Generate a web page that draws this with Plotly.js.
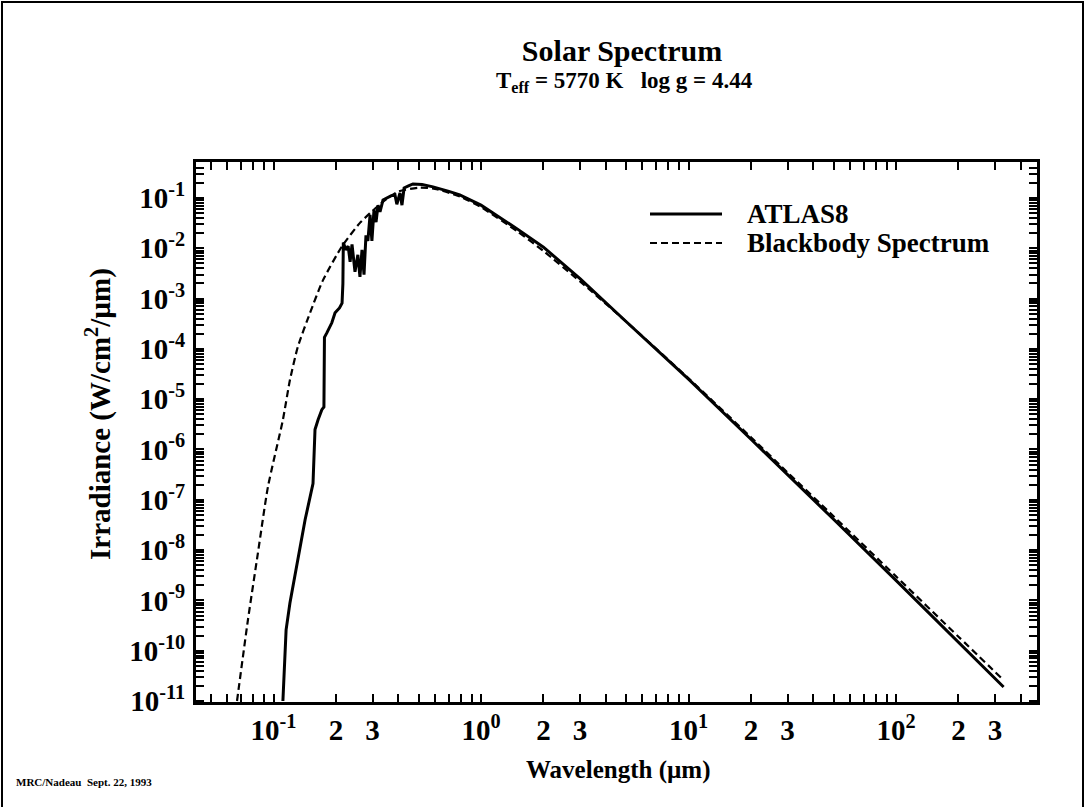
<!DOCTYPE html>
<html>
<head>
<meta charset="utf-8">
<script src="https://cdn.plot.ly/plotly-3.0.1.min.js"></script>
<style>
  html, body { margin: 0; padding: 0; background: #fff; }
  #wrap { position: relative; width: 1085px; height: 807px; overflow: hidden; }
  #chart { position: absolute; left: 0; top: 0; width: 1085px; height: 807px; }
  #frame { position: absolute; left: 1px; top: 1px; width: 1079px; height: 820px;
           border: 2px solid #000; pointer-events: none; }
</style>
</head>
<body>
<div id="wrap"><div id="chart"></div><div id="frame"></div></div>
<script>
// ---- data ----
const atlasWavelength = [0.111, 0.113, 0.115, 0.120, 0.128, 0.142, 0.155, 0.157, 0.1585, 0.164, 0.171, 0.175,
  0.176, 0.181, 0.191, 0.198, 0.208, 0.214, 0.216, 0.217, 0.223, 0.229, 0.234, 0.239, 0.247, 0.255, 0.261,
  0.267, 0.273, 0.279, 0.285, 0.292, 0.298, 0.305, 0.312, 0.319, 0.326, 0.337, 0.352, 0.368, 0.385, 0.393,
  0.398, 0.407, 0.416, 0.426, 0.45, 0.47, 0.52, 0.587, 0.70, 0.79, 1.0, 1.5, 2.0, 3.0, 5.0, 10, 20, 30, 50,
  100, 200, 330];
const atlasIrradiance = [1.0e-11, 6e-11, 2.6e-10, 8.9e-10, 4.0e-9, 4.0e-8, 2.1e-7, 1.0e-6, 2.5e-6, 3.9e-6, 6.2e-6, 7.0e-6,
  1.7e-4, 2.1e-4, 3.3e-4, 5.2e-4, 6.5e-4, 8.1e-4, 2.0e-3, 1.3e-2, 9.3e-3, 1.1e-2, 5.4e-3, 1.2e-2, 3.4e-3, 7.4e-3, 2.7e-3,
  9.3e-3, 3.0e-3, 1.8e-2, 1.4e-2, 4.6e-2, 1.4e-2, 5.8e-2, 3.3e-2, 7.2e-2, 5.3e-2, 9.1e-2, 0.100, 0.110, 0.115, 0.075,
  0.091, 0.126, 0.072, 0.158, 0.175, 0.19, 0.185, 0.166, 0.135, 0.115, 0.072, 0.024, 0.0105, 0.0025, 3.5e-4, 2.5e-5, 1.6e-6, 3.2e-7, 4.1e-8,
  2.5e-9, 1.5e-10, 1.9e-11];

const bbWavelength = [0.0667, 0.0753, 0.0841, 0.094, 0.111, 0.120, 0.131, 0.150, 0.173, 0.214, 0.261, 0.292, 0.315,
  0.35, 0.40, 0.50, 0.60, 0.80, 1.0, 1.5, 2.0, 3.0, 5.0, 10, 20, 30, 50, 100, 200, 330];
const bbIrradiance = [1.0e-11, 4.1e-10, 8.7e-9, 1.8e-7, 3.9e-6, 2.4e-5, 1.1e-4, 5.2e-4, 2.3e-3, 1.1e-2, 3.2e-2, 5.0e-2, 6.6e-2,
  0.095, 0.135, 0.16, 0.152, 0.105, 0.066, 0.0215, 0.0088, 2.2e-3, 3.5e-4, 2.6e-5, 1.75e-6, 3.5e-7, 4.7e-8, 3.0e-9, 1.9e-10, 2.6e-11];

const seriesNames = ['ATLAS8', 'Blackbody Spectrum'];
// labelled x ticks: mantissa 1 -> power of ten, 2 and 3 -> digit
const xLabelled = { 1: true, 2: true, 3: true };
const xDecades = [-2, -1, 0, 1, 2];
const yDecades = [-12, -11, -10, -9, -8, -7, -6, -5, -4, -3, -2, -1];

// ---- tick construction (positions derived from decades, text from rules) ----
function buildTicks(decades, labelMantissa) {
  const vals = [], text = [];
  decades.forEach(e => {
    for (let m = 1; m <= 9; m++) {
      vals.push(m * Math.pow(10, e));
      if (m === 1) text.push('10<sup>' + e + '</sup>');
      else if (labelMantissa[m]) text.push(String(m));
      else text.push('');
    }
  });
  return { vals, text };
}
const xt = buildTicks(xDecades, xLabelled);
const yt = buildTicks(yDecades, {});

// ---- layout geometry (pixels) ----
const L = 196, R = 1037, T = 162, B = 702, W = 1085, H = 807;
const px = x => (x - L) / (R - L);
const py = y => (B - y) / (B - T);

const FONT = 'Liberation Serif, Times New Roman, serif';
const bold = (size) => ({ family: FONT, size: size, color: '#000', weight: 'bold' });

const traces = [
  { x: atlasWavelength, y: atlasIrradiance, name: seriesNames[0], type: 'scatter', mode: 'lines',
    line: { color: '#000', width: 3 } },
  { x: bbWavelength, y: bbIrradiance, name: seriesNames[1], type: 'scatter', mode: 'lines',
    line: { color: '#000', width: 2.2, dash: '7px,4px', shape: 'spline', smoothing: 0.6 } }
];

const axisCommon = {
  type: 'log', showgrid: false, zeroline: false,
  showline: true, linecolor: '#000', linewidth: 3, mirror: 'allticks',
  ticks: 'inside', ticklen: 8, tickwidth: 2, tickcolor: '#000',
  tickmode: 'array', tickfont: bold(29)
};

const layout = {
  width: W, height: H,
  paper_bgcolor: '#fff', plot_bgcolor: '#fff',
  margin: { l: L, r: W - R, t: T, b: H - B, pad: 0 },
  showlegend: false,
  title: { text: 'Solar Spectrum', font: bold(30), x: 622 / W, xanchor: 'center', y: 1 - 50 / H, yanchor: 'middle' },
  xaxis: Object.assign({}, axisCommon, {
    range: [-1.3735, 2.6795], tickvals: xt.vals, ticktext: xt.text
  }),
  yaxis: Object.assign({}, axisCommon, {
    range: [-11.02, -0.285], tickvals: yt.vals, ticktext: yt.text, ticklabelstandoff: 2
  }),
  shapes: [
    { type: 'line', xref: 'paper', yref: 'paper', x0: px(650), x1: px(722), y0: py(214), y1: py(214),
      line: { color: '#000', width: 3 } },
    { type: 'line', xref: 'paper', yref: 'paper', x0: px(650), x1: px(722), y0: py(243), y1: py(243),
      line: { color: '#000', width: 2.2, dash: '7px,4px' } }
  ],
  annotations: [
    { text: 'T<sub>eff</sub> = 5770 K\u00a0\u00a0\u00a0log g = 4.44', xref: 'paper', yref: 'paper',
      x: px(624), y: py(82), xanchor: 'center', yanchor: 'middle', showarrow: false, font: bold(23) },
    { text: seriesNames[0], xref: 'paper', yref: 'paper', x: px(745), y: py(214), xanchor: 'left', yanchor: 'middle',
      showarrow: false, font: bold(27) },
    { text: seriesNames[1], xref: 'paper', yref: 'paper', x: px(745), y: py(243), xanchor: 'left', yanchor: 'middle',
      showarrow: false, font: bold(27) },
    { text: 'Irradiance (W/cm<sup>2</sup>/µm)', xref: 'paper', yref: 'paper', x: px(98), y: py(414),
      xanchor: 'center', yanchor: 'middle', textangle: -90, showarrow: false, font: bold(29) },
    { text: 'Wavelength (µm)', xref: 'paper', yref: 'paper', x: px(618), y: py(770),
      xanchor: 'center', yanchor: 'middle', showarrow: false, font: bold(25) },
    { text: 'MRC/Nadeau\u00a0\u00a0Sept. 22, 1993', xref: 'paper', yref: 'paper', x: px(14), y: py(782),
      xanchor: 'left', yanchor: 'middle', showarrow: false, font: bold(11) }
  ]
};

Plotly.newPlot('chart', traces, layout, { staticPlot: true, displayModeBar: false });
</script>
</body>
</html>
